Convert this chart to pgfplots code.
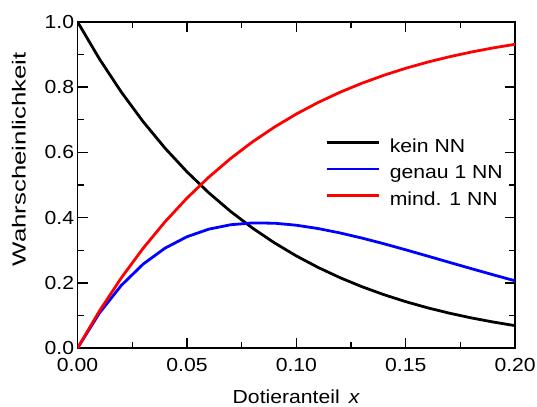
\documentclass[border=0pt]{standalone}
\usepackage{fontspec}
\setmainfont{Liberation Sans}[FakeStretch=1.12]
\usepackage{pgfplots}
\pgfplotsset{compat=1.18}
\begin{document}
\begin{tikzpicture}
\useasboundingbox (-78pt,-59pt) rectangle (462pt,350pt);
\begin{axis}[
  at={(0,0)}, anchor=south west,
  scale only axis, width=440pt, height=328pt,
  xmin=0, xmax=0.2, ymin=0, ymax=1.0,
  xtick={0,0.05,0.1,0.15,0.2}, ytick={0,0.2,0.4,0.6,0.8,1.0},
  minor xtick={0.025,0.075,0.125,0.175}, minor ytick={0.1,0.3,0.5,0.7,0.9},
  tick align=inside, major tick length=10pt, minor tick length=6pt,
  tick style={black, line width=1.4pt},
  axis line style={line width=1.7pt},
  xticklabel={\pgfmathprintnumber[fixed,fixed zerofill,precision=2,assume math mode=true]{\tick}},
  yticklabel={\pgfmathprintnumber[fixed,fixed zerofill,precision=1,assume math mode=true]{\tick}},
  xticklabel style={yshift=-7pt},
  ticklabel style={font=\fontsize{19}{23}\selectfont},
  label style={font=\fontsize{19}{23}\selectfont},
  xlabel={Dotieranteil \,\textit{x}},
  xlabel style={at={(axis description cs:0.5,-0.171)}, anchor=base},
  ylabel={\scalebox{1.22}[1]{Wahrscheinlichkeit}},
  ylabel style={at={(axis description cs:-0.134,0.579)}, anchor=center},
  legend style={draw=none, fill=none, at={(0.566,0.644)}, anchor=north west,
    font=\fontsize{19}{23}\selectfont, inner sep=0pt, row sep=9pt,
    nodes={inner sep=0pt, text height=14pt, text depth=4pt}},
  legend cell align=left,
  legend image code/.code={\draw[#1, line width=2.8pt] (0pt,5pt) -- (52pt,5pt);},
  every axis plot/.append style={line width=2.8pt},
]
\addplot[black] coordinates {
(0,1) (0.01,0.88638) (0.02,0.78470) (0.03,0.69384) (0.04,0.61271) (0.05,0.54036)
(0.06,0.47592) (0.07,0.41859) (0.08,0.36766) (0.09,0.32250) (0.10,0.28243)
(0.11,0.24698) (0.12,0.21566) (0.13,0.18803) (0.14,0.16370) (0.15,0.14224)
(0.16,0.12340) (0.17,0.10687) (0.18,0.09242) (0.19,0.07977) (0.20,0.06872)};
\addlegendentry{\hspace{10pt}kein NN}
\addplot[blue] coordinates {
(0,0) (0.01,0.10744) (0.02,0.19217) (0.03,0.25751) (0.04,0.30636) (0.05,0.34128)
(0.06,0.36454) (0.07,0.37808) (0.08,0.38365) (0.09,0.38275) (0.10,0.37657)
(0.11,0.36631) (0.12,0.35290) (0.13,0.33716) (0.14,0.31980) (0.15,0.30122)
(0.16,0.28206) (0.17,0.26267) (0.18,0.24345) (0.19,0.22454) (0.20,0.20616)};
\addlegendentry{\hspace{10pt}genau 1 NN}
\addplot[red] coordinates {
(0,0) (0.01,0.11362) (0.02,0.21530) (0.03,0.30616) (0.04,0.38729) (0.05,0.45964)
(0.06,0.52408) (0.07,0.58141) (0.08,0.63234) (0.09,0.67750) (0.10,0.71757)
(0.11,0.75302) (0.12,0.78434) (0.13,0.81197) (0.14,0.83630) (0.15,0.85776)
(0.16,0.87660) (0.17,0.89313) (0.18,0.90758) (0.19,0.92023) (0.20,0.93128)};
\addlegendentry{\hspace{10pt}mind. 1 NN}
\end{axis}
\end{tikzpicture}
\end{document}
